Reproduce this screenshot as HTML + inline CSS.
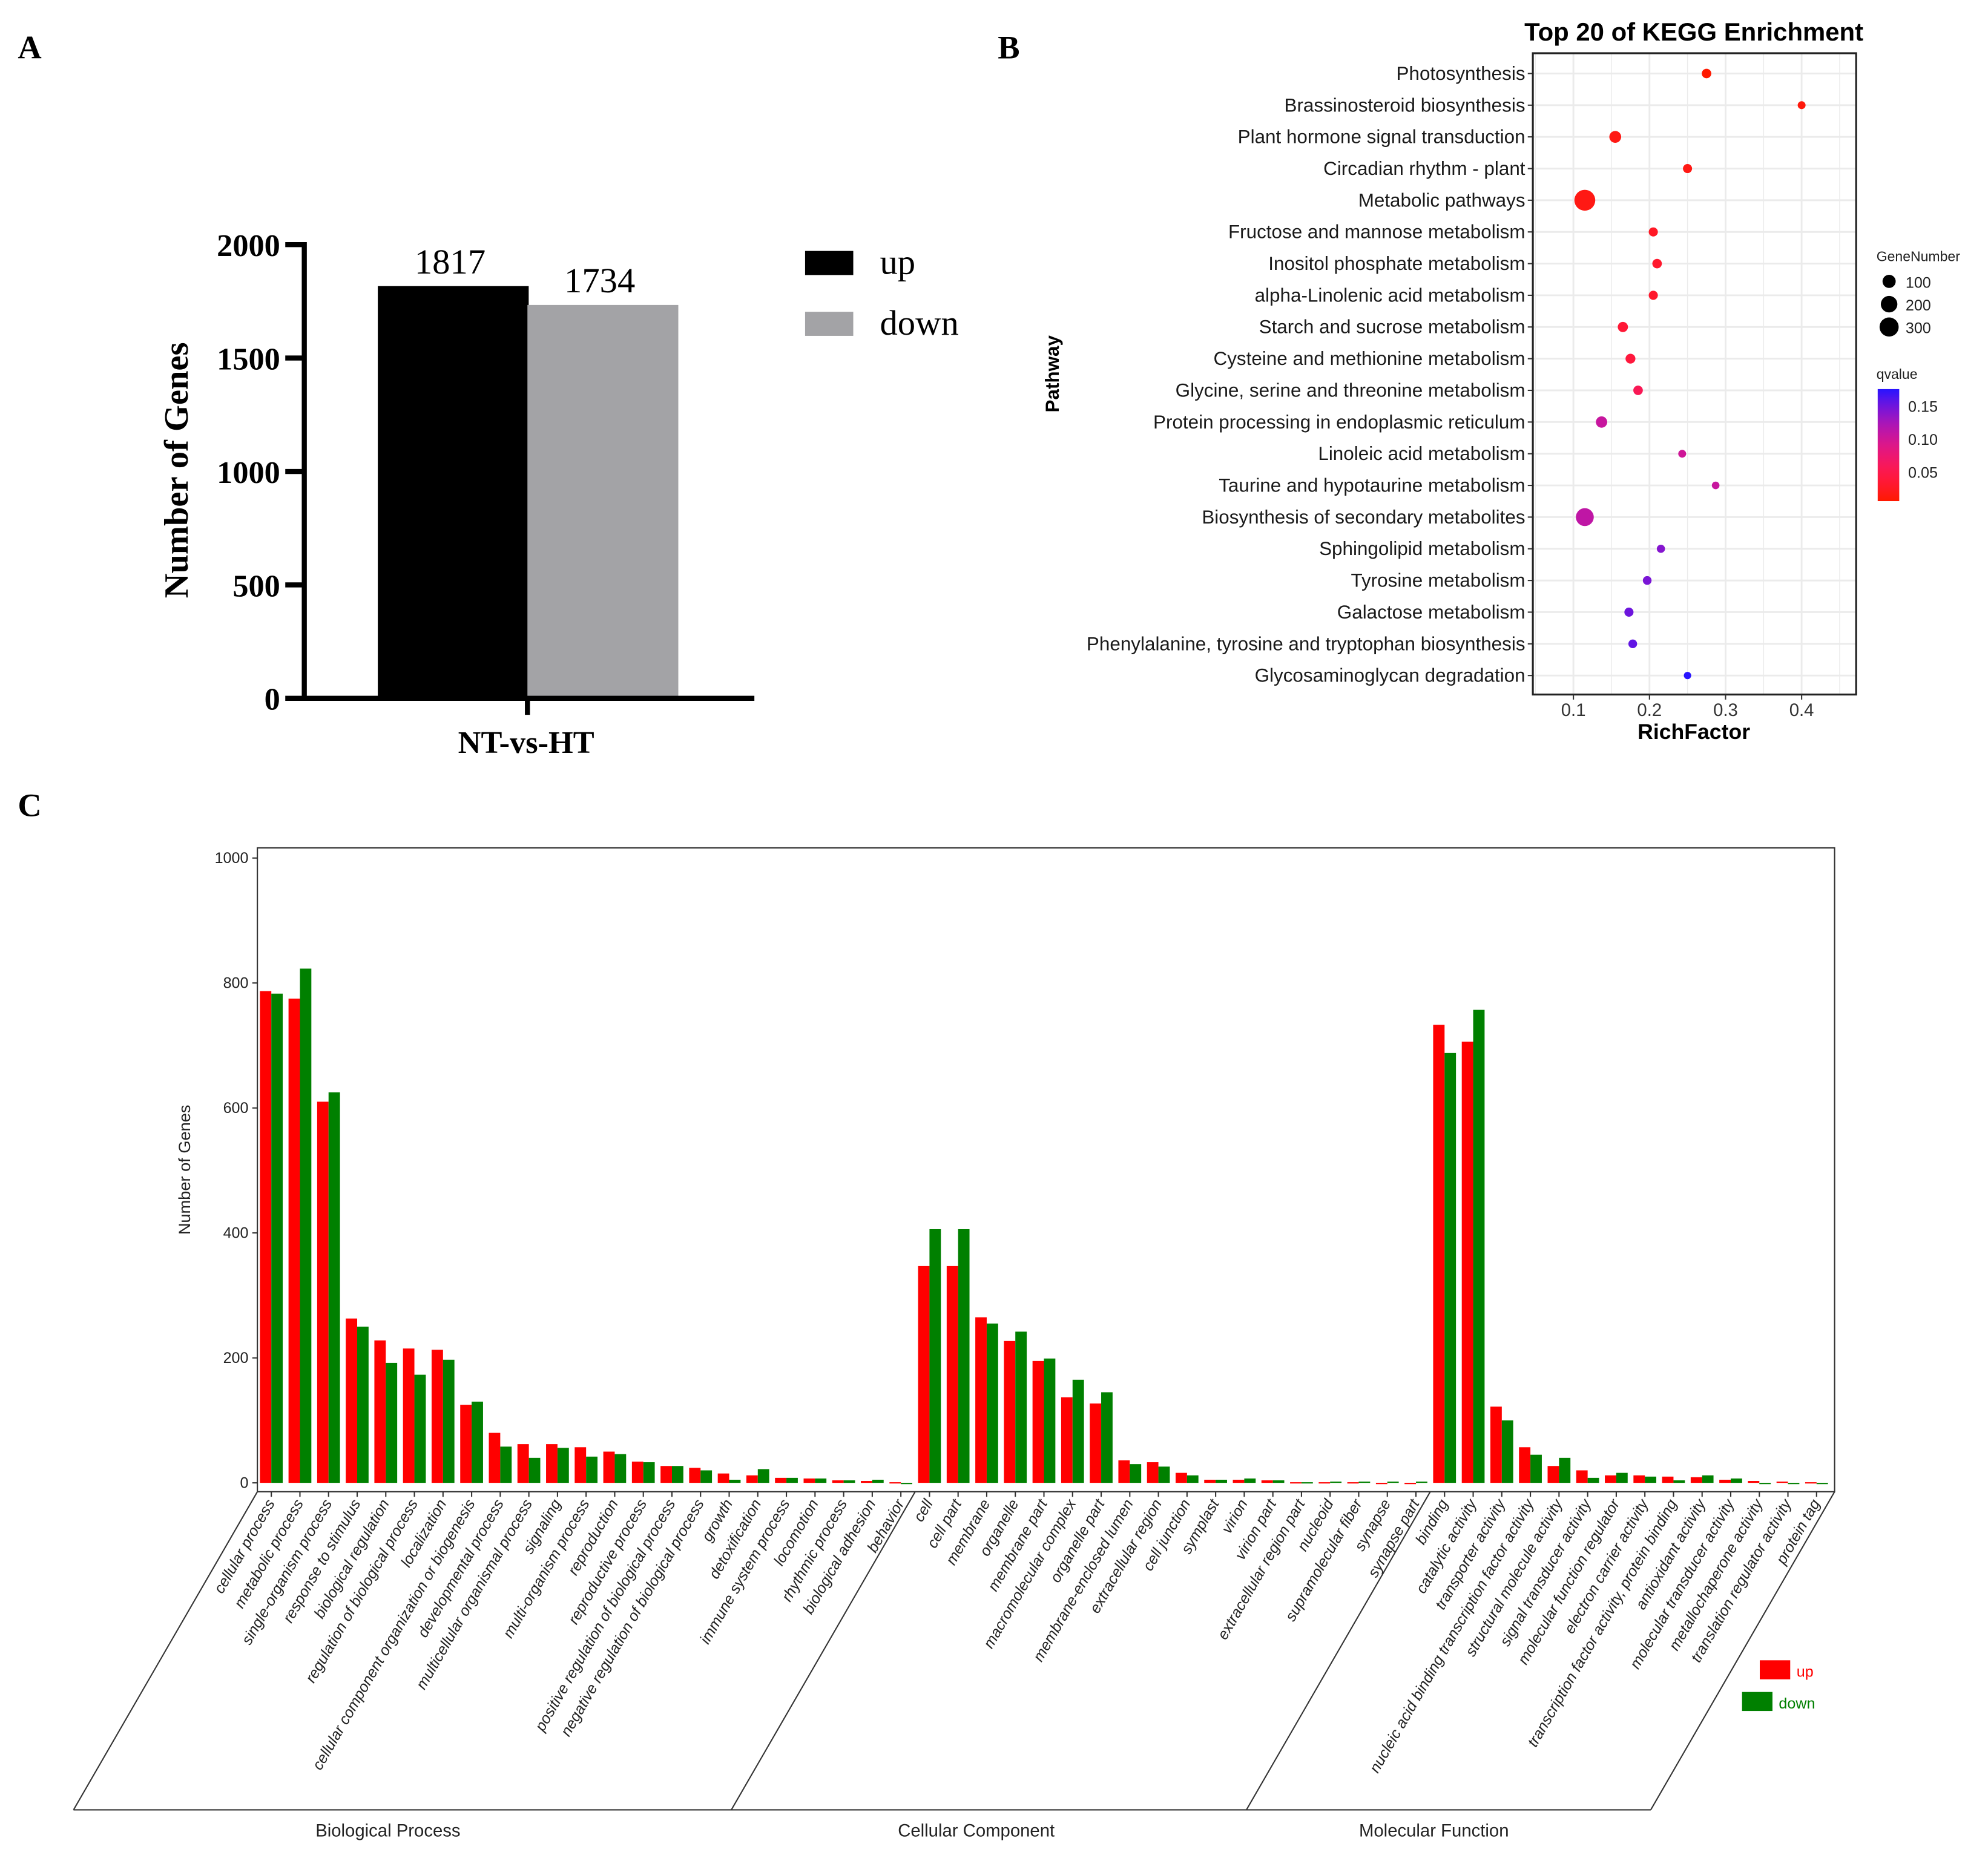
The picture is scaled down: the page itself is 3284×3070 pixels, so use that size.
<!DOCTYPE html>
<html><head><meta charset="utf-8"><style>
html,body{margin:0;padding:0;background:#fff;}
svg{display:block;}
</style></head><body>
<svg id="fig" xmlns="http://www.w3.org/2000/svg" width="3284" height="3070" viewBox="0 0 1568 1466" preserveAspectRatio="none">
<rect x="0" y="0" width="1568" height="1466" fill="#fff"/>
<text x="14" y="46" font-family="Liberation Serif, serif" font-weight="bold" font-size="26">A</text>
<text x="787" y="46" font-family="Liberation Serif, serif" font-weight="bold" font-size="26">B</text>
<text x="14" y="644" font-family="Liberation Serif, serif" font-weight="bold" font-size="26">C</text>
<g id="pa"></g>
<g id="pb"></g>
<g id="pc"></g>
</svg>
<script>
// ---------- Panel A data ----------
const aSeries = ["up","down"];
const aValues = [1817,1734];
const aTicks = [0,500,1000,1500,2000];
// ---------- Panel B data ----------
const bPathways = ["Photosynthesis","Brassinosteroid biosynthesis","Plant hormone signal transduction","Circadian rhythm - plant","Metabolic pathways","Fructose and mannose metabolism","Inositol phosphate metabolism","alpha-Linolenic acid metabolism","Starch and sucrose metabolism","Cysteine and methionine metabolism","Glycine, serine and threonine metabolism","Protein processing in endoplasmic reticulum","Linoleic acid metabolism","Taurine and hypotaurine metabolism","Biosynthesis of secondary metabolites","Sphingolipid metabolism","Tyrosine metabolism","Galactose metabolism","Phenylalanine, tyrosine and tryptophan biosynthesis","Glycosaminoglycan degradation"];
const bRich = [0.275,0.40,0.155,0.25,0.115,0.205,0.21,0.205,0.165,0.175,0.185,0.137,0.243,0.287,0.115,0.215,0.197,0.173,0.178,0.25];
const bGenes = [30,12,70,25,380,25,30,25,40,35,30,60,12,10,250,15,20,25,20,8];
const bQ = [0.005,0.01,0.015,0.015,0.015,0.025,0.03,0.03,0.035,0.04,0.055,0.105,0.1,0.105,0.11,0.14,0.145,0.15,0.155,0.175];
const bXTicks = [0.1,0.2,0.3,0.4];
const bSizeLegend = [100,200,300];
const bQTicks = [0.05,0.10,0.15];
// ---------- Panel C data ----------
const cGroups = ["Biological Process","Cellular Component","Molecular Function"];
const cGroupSizes = [23,18,14];
const cCategories = ["cellular process","metabolic process","single-organism process","response to stimulus","biological regulation","regulation of biological process","localization","cellular component organization or biogenesis","developmental process","multicellular organismal process","signaling","multi-organism process","reproduction","reproductive process","positive regulation of biological process","negative regulation of biological process","growth","detoxification","immune system process","locomotion","rhythmic process","biological adhesion","behavior",
"cell","cell part","membrane","organelle","membrane part","macromolecular complex","organelle part","membrane-enclosed lumen","extracellular region","cell junction","symplast","virion","virion part","extracellular region part","nucleoid","supramolecular fiber","synapse","synapse part",
"binding","catalytic activity","transporter activity","nucleic acid binding transcription factor activity","structural molecule activity","signal transducer activity","molecular function regulator","electron carrier activity","transcription factor activity, protein binding","antioxidant activity","molecular transducer activity","metallochaperone activity","translation regulator activity","protein tag"];
const cUp = [787,775,610,263,228,215,213,125,80,62,62,57,50,34,27,24,15,12,8,7,4,3,1,
347,347,265,227,195,137,127,36,33,16,5,5,4,1,1,1,0,0,
733,706,122,57,27,20,12,12,10,9,5,3,2,1];
const cDown = [783,823,625,250,192,173,197,130,58,40,56,42,46,33,27,20,5,22,8,7,4,5,0,
406,406,255,242,199,165,145,30,26,12,5,7,4,1,2,2,2,2,
688,757,100,45,40,8,16,10,4,12,7,0,0,0];
const cYTicks = [0,200,400,600,800,1000];

const NS="http://www.w3.org/2000/svg";
function mk(parent,tag,attrs,txt){const e=document.createElementNS(NS,tag);for(const k in attrs)e.setAttribute(k,attrs[k]);if(txt!==undefined)e.textContent=txt;parent.appendChild(e);return e;}
const SERIF="Liberation Serif, serif", SANS="Liberation Sans, sans-serif";

// ===== Panel A =====
(function(){
const g=document.getElementById('pa');
const y=v=>551-(v/2000)*358;
const colors=["#000","#a3a3a6"];
const x0=[298,416];
aValues.forEach((v,i)=>{
  const r=mk(g,'rect',{x:x0[i],y:y(v),width:119,height:551-y(v),fill:colors[i]});
  
  
  const t=mk(g,'text',{x:x0[i]+57,y:y(v)-10,'text-anchor':'middle','font-family':SERIF,'font-size':28},String(v));
  
  
});
const ax=mk(g,'path',{d:'M240 191 V551 H595 M416 551 V564',stroke:'#000','stroke-width':4,fill:'none'});


aTicks.forEach(v=>{
  const tk=mk(g,'line',{x1:225,x2:240,y1:y(v),y2:y(v),stroke:'#000','stroke-width':4});
  
  
  const t=mk(g,'text',{x:221,y:y(v)+9,'text-anchor':'end','font-family':SERIF,'font-weight':'bold','font-size':25},String(v));
  
  
});
const yt=mk(g,'text',{transform:'translate(148,371) rotate(-90)','text-anchor':'middle','font-family':SERIF,'font-weight':'bold','font-size':27},'Number of Genes');


const xt=mk(g,'text',{x:415,y:594,'text-anchor':'middle','font-family':SERIF,'font-weight':'bold','font-size':25},'NT-vs-HT');


aSeries.forEach((s,i)=>{
  const r=mk(g,'rect',{x:635,y:198+i*48,width:38,height:19,fill:colors[i]});
  
  
  const t=mk(g,'text',{x:694,y:216+i*48,'font-family':SERIF,'font-size':28},s);
  
  
});
})();

// ===== Panel B =====
(function(){
const g=document.getElementById('pb');
const L=1209,R=1464,T=42,B=548;
const x=v=>1241+(v-0.1)*600;
const y=i=>58+i*25;
const rad=n=>2+0.32*Math.sqrt(n);
const qmin=0.005,qmax=0.175;
function qcol(q){let t=(q-qmin)/(qmax-qmin);t=Math.max(0,Math.min(1,t));
  const r=Math.round(255*(1-Math.pow(t,2.2))+40*t),b=Math.round(255*Math.pow(t,0.9)),gg=Math.round(25*(1-t)+20*t);
  return `rgb(${Math.min(255,r)},${gg},${b})`;}
const title=mk(g,'text',{x:1336,y:32,'text-anchor':'middle','font-family':SANS,'font-weight':'bold','font-size':20},'Top 20 of KEGG Enrichment');


for(let k=1;k<=9;k++){const v=k*0.05;const major=k%2===0;
  const gl=mk(g,'line',{x1:x(v),x2:x(v),y1:T,y2:B,stroke:'#ebebeb','stroke-width':major?1.4:0.7});
  
  }
bPathways.forEach((p,i)=>{
  const gl=mk(g,'line',{x1:L,x2:R,y1:y(i),y2:y(i),stroke:'#ebebeb','stroke-width':1.4});
  
  
  const tk=mk(g,'line',{x1:L-4,x2:L,y1:y(i),y2:y(i),stroke:'#333','stroke-width':1});
  
  
  const t=mk(g,'text',{x:L-6,y:y(i)+5,'text-anchor':'end','font-family':SANS,'font-size':15,fill:'#1a1a1a'},p);
  
  
});
const box=mk(g,'rect',{x:L,y:T,width:R-L,height:B-T,fill:'none',stroke:'#222','stroke-width':1.5});


bPathways.forEach((p,i)=>{
  const c=mk(g,'circle',{cx:x(bRich[i]),cy:y(i),r:rad(bGenes[i]),fill:qcol(bQ[i])});
  
  
});
bXTicks.forEach(v=>{
  const tk=mk(g,'line',{x1:x(v),x2:x(v),y1:B,y2:B+4,stroke:'#333','stroke-width':1});
  
  
  const t=mk(g,'text',{x:x(v),y:B+17,'text-anchor':'middle','font-family':SANS,'font-size':14,fill:'#333'},v.toFixed(1));
  
  
});
const xt=mk(g,'text',{x:1336,y:583,'text-anchor':'middle','font-family':SANS,'font-weight':'bold','font-size':17},'RichFactor');


const yt=mk(g,'text',{transform:'translate(835,295) rotate(-90)','text-anchor':'middle','font-family':SANS,'font-weight':'bold','font-size':15},'Pathway');


const gt=mk(g,'text',{x:1480,y:206,'font-family':SANS,'font-size':11,fill:'#222'},'GeneNumber');


bSizeLegend.forEach((n,i)=>{
  const c=mk(g,'circle',{cx:1490,cy:222+i*18,r:rad(n),fill:'#000'});
  
  
  const t=mk(g,'text',{x:1503,y:227+i*18,'font-family':SANS,'font-size':12,fill:'#222'},String(n));
  
  
});
const qt=mk(g,'text',{x:1480,y:299,'font-family':SANS,'font-size':11,fill:'#222'},'qvalue');


const defs=mk(g,'defs',{});
const lg=mk(defs,'linearGradient',{id:'qgrad',x1:0,y1:1,x2:0,y2:0});
for(let k=0;k<=10;k++){mk(lg,'stop',{offset:k/10,'stop-color':qcol(qmin+(qmax-qmin)*k/10)});}
const qy=q=>398-q*520;
const cb=mk(g,'rect',{x:1481,y:qy(qmax),width:17,height:qy(qmin)-qy(qmax),fill:'url(#qgrad)'});


bQTicks.forEach(q=>{
  const t=mk(g,'text',{x:1505,y:qy(q)+5,'font-family':SANS,'font-size':12,fill:'#222'},q.toFixed(2));
  
  
});
})();

// ===== Panel C =====
(function(){
const g=document.getElementById('pc');
const L=203,R=1447,T=669,B=1177;
const y=v=>1170-v*0.493;
const cx=i=>214+i*22.57;
const bw=9;
const box=mk(g,'rect',{x:L,y:T,width:R-L,height:B-T,fill:'none',stroke:'#333','stroke-width':1});


cYTicks.forEach(v=>{
  const tk=mk(g,'line',{x1:L-4,x2:L,y1:y(v),y2:y(v),stroke:'#333','stroke-width':1});
  
  
  const t=mk(g,'text',{x:L-7,y:y(v)+4,'text-anchor':'end','font-family':SANS,'font-size':12,fill:'#222'},String(v));
  
  
});
const yt=mk(g,'text',{transform:'translate(150,923) rotate(-90)','text-anchor':'middle','font-family':SANS,'font-size':13,fill:'#222'},'Number of Genes');


cCategories.forEach((c,i)=>{
  const r1=mk(g,'rect',{x:cx(i)-bw,y:y(cUp[i]),width:bw,height:Math.max(1,y(0)-y(cUp[i])),fill:'#ff0000'});
  
  
  const r2=mk(g,'rect',{x:cx(i),y:y(cDown[i]),width:bw,height:Math.max(1,y(0)-y(cDown[i])),fill:'#008000'});
  
  
  const tk=mk(g,'line',{x1:cx(i),x2:cx(i),y1:B,y2:B+4,stroke:'#333','stroke-width':1});
  
  
  const t=mk(g,'text',{transform:`translate(${cx(i)+3},${B+9}) rotate(-60)`,'text-anchor':'end','font-family':SANS,'font-style':'italic','font-size':12,fill:'#222'},c);
  
  
});
const sep=[L];let acc=0;
cGroupSizes.forEach(n=>{acc+=n;sep.push(acc<cCategories.length?(cx(acc-1)+cx(acc))/2:R);});
const dx=145, by=1428;
const bl=mk(g,'line',{x1:sep[0]-dx,x2:sep[sep.length-1]-dx,y1:by,y2:by,stroke:'#333','stroke-width':1});


sep.forEach(s=>{
  const l=mk(g,'line',{x1:s,y1:B,x2:s-dx,y2:by,stroke:'#333','stroke-width':1});
  
  
});
const groupLabelX=[306,770,1131];
cGroups.forEach((gn,i)=>{
  const t=mk(g,'text',{x:groupLabelX[i],y:1449,'text-anchor':'middle','font-family':SANS,'font-size':14,fill:'#222'},gn);
  
  
});
const l1=mk(g,'rect',{x:1388,y:1310,width:24,height:15,fill:'#ff0000'});


const t1=mk(g,'text',{x:1417,y:1323,'font-family':SANS,'font-size':12,fill:'#ff0000'},'up');


const l2=mk(g,'rect',{x:1374,y:1335,width:24,height:15,fill:'#008000'});


const t2=mk(g,'text',{x:1403,y:1348,'font-family':SANS,'font-size':12,fill:'#008000'},'down');


})();
</script>
</body></html>
